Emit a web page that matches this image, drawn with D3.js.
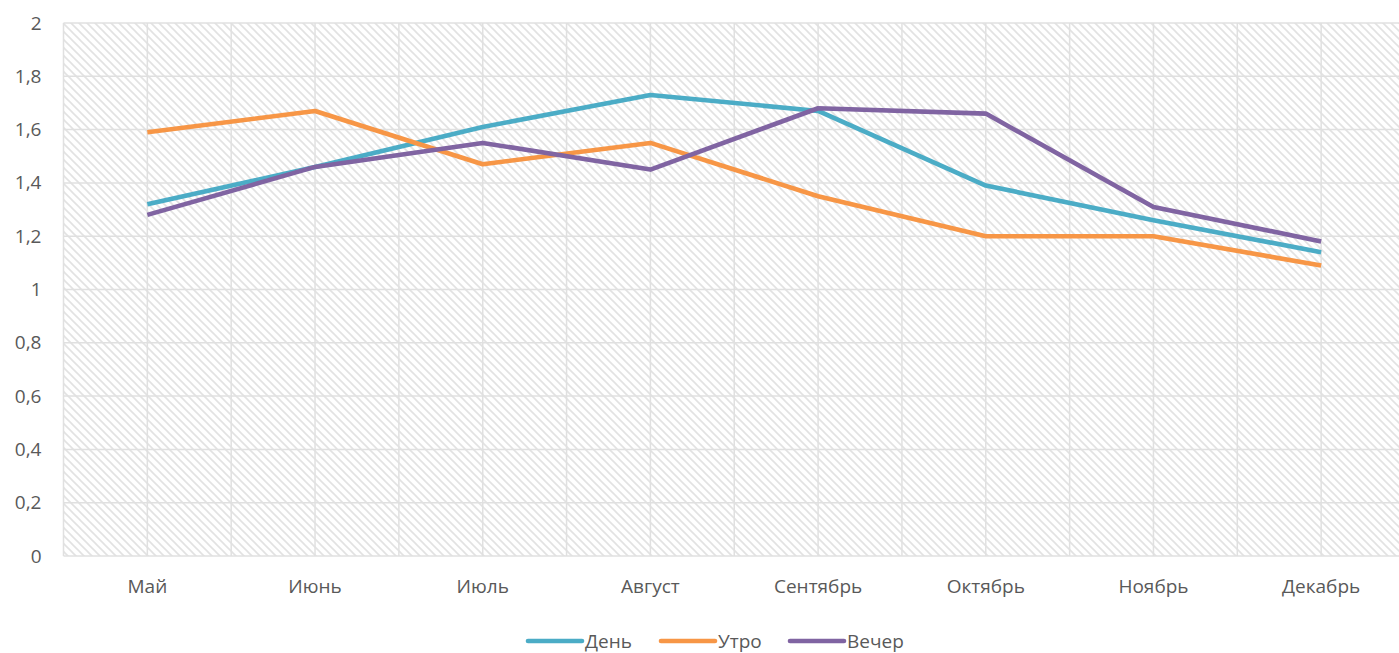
<!DOCTYPE html>
<html><head><meta charset="utf-8">
<script src="https://cdn.jsdelivr.net/npm/d3@7"></script>
<style>body{margin:0;background:#fff;}svg{display:block;}text{font-family:"Open Sans",Calibri,sans-serif;fill:#595959;}</style>
</head><body>
<svg id="c" width="1399" height="653"></svg>
<script>
const categories = ["Май","Июнь","Июль","Август","Сентябрь","Октябрь","Ноябрь","Декабрь"];
const seriesNames = ["День","Утро","Вечер"];
const dayValues = [1.32,1.46,1.61,1.73,1.67,1.39,1.26,1.14];
const morningValues = [1.59,1.67,1.47,1.55,1.35,1.20,1.20,1.09];
const eveningValues = [1.28,1.46,1.55,1.45,1.68,1.66,1.31,1.18];
const yTicks = [0,0.2,0.4,0.6,0.8,1,1.2,1.4,1.6,1.8,2];
const colors = ["#4BACC6","#F79646","#8064A2"];

(function(){
const series = [dayValues, morningValues, eveningValues];
const svg = d3.select("#c");
const pLeft = 63.5, pRight = 1405, pTop = 23, pBottom = 556;

const defs = svg.append("defs");
const pat = defs.append("pattern").attr("id","hatch").attr("patternUnits","userSpaceOnUse")
  .attr("width",8).attr("height",8);
pat.append("rect").attr("width",8).attr("height",8).attr("fill","#fff");
pat.append("path").attr("d","M-2,-2 L10,10 M-2,6 L2,10 M6,-2 L10,2").attr("stroke","#e2e2e2").attr("stroke-width",1.6);

const x = d3.scaleBand().domain(categories).range([pLeft,pRight]).padding(0);
const y = d3.scaleLinear().domain([0,2]).range([pBottom,pTop]);

svg.append("rect").attr("x",pLeft).attr("y",pTop).attr("width",pRight-pLeft).attr("height",pBottom-pTop).attr("fill","url(#hatch)");

svg.append("g").selectAll("line").data(yTicks).join("line")
  .attr("x1",pLeft).attr("x2",pRight).attr("y1",d=>y(d)).attr("y2",d=>y(d))
  .attr("stroke","#e0e0e0").attr("stroke-width",1.5);
const vx = [];
categories.forEach(c=>{vx.push(x(c)); vx.push(x(c)+x.bandwidth()/2);});
vx.push(pRight);
svg.append("g").selectAll("line").data(vx).join("line")
  .attr("x1",d=>d).attr("x2",d=>d).attr("y1",pTop).attr("y2",pBottom)
  .attr("stroke","#e0e0e0").attr("stroke-width",1.5);

const yAxis = svg.append("g").attr("transform",`translate(${pLeft},0)`)
  .call(d3.axisLeft(y).tickValues(yTicks).tickSize(0).tickPadding(22)
    .tickFormat(d=>String(d).replace(".",",")));
yAxis.select(".domain").remove();
yAxis.selectAll("text").style("font-size","19px").attr("fill","#595959");

const xAxis = svg.append("g").attr("transform",`translate(0,${pBottom})`)
  .call(d3.axisBottom(x).tickSize(0).tickPadding(24));
xAxis.select(".domain").remove();
xAxis.selectAll("text").style("font-size","19px").attr("fill","#595959");

const line = d3.line().x((d,i)=>x(categories[i])+x.bandwidth()/2).y(d=>y(d));
series.forEach((s,k)=>{
  svg.append("path").datum(s).attr("d",line).attr("fill","none")
    .attr("stroke",colors[k]).attr("stroke-width",4.6).attr("stroke-linejoin","round");
});

const legendX = [528,661,790];
const lg = svg.append("g");
seriesNames.forEach((n,k)=>{
  lg.append("line").attr("x1",legendX[k]).attr("x2",legendX[k]+54).attr("y1",641).attr("y2",641)
    .attr("stroke",colors[k]).attr("stroke-width",4.6).attr("stroke-linecap","round");
  lg.append("text").attr("x",legendX[k]+57).attr("y",648).style("font-size","19px").text(n);
});
})();
</script>
</body></html>
